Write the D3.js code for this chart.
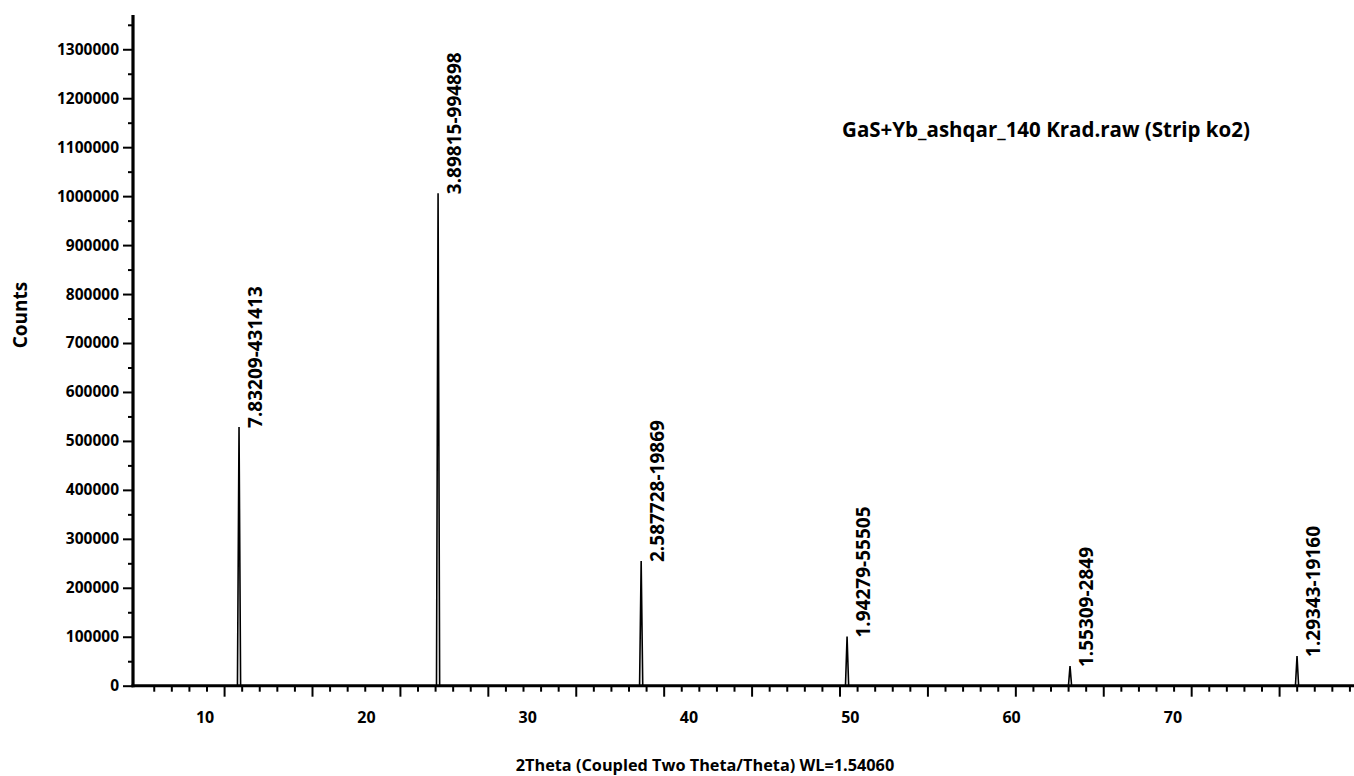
<!DOCTYPE html>
<html>
<head>
<meta charset="utf-8">
<script src="https://cdn.jsdelivr.net/npm/d3@7"></script>
<style>
  html, body { margin: 0; padding: 0; background: #fff; }
  svg { display: block; font-family: "Open Sans", sans-serif; font-weight: 700; }
</style>
</head>
<body>
<svg id="chart" width="1354" height="776"></svg>
<script>
// Strip pattern peaks: 2θ position (deg) and intensity (counts)
const peakTheta  = [10.85, 22.17, 33.72, 45.43, 58.11, 71.02];
const peakCounts = [528500, 1006000, 254700, 100500, 40000, 60700];
// Peak annotations: d-spacing (Å) and net value
const peakLabels = ["7.83209-431413", "3.89815-994898", "2.587728-19869",
                    "1.94279-55505", "1.55309-2849", "1.29343-19160"];

// Axis tick labels
const yTickLabels = [0, 100000, 200000, 300000, 400000, 500000, 600000, 700000,
                     800000, 900000, 1000000, 1100000, 1200000, 1300000];
const xTickLabels = [10, 20, 30, 40, 50, 60, 70];

const title  = "GaS+Yb_ashqar_140 Krad.raw (Strip ko2)";
const xTitle = "2Theta (Coupled Two Theta/Theta) WL=1.54060";
const yTitle = "Counts";

const svg = d3.select("#chart");

// Plot frame
const plotLeft = 133, plotRight = 1354, plotTop = 15, plotBottom = 685.7;
const peakHalfWidth = 0.09;   // half base width of each peak, deg

// Tick scale: minor every 1°, major every 5°
const x = d3.scaleLinear().domain([4.82, 74.26]).range([plotLeft, plotRight]);
const y = d3.scaleLinear().domain([0, 1370000]).range([plotBottom, plotTop]);
// Placement of the numeric 2θ labels under the axis
const xLab = d3.scaleLinear().domain([10, 70]).range([204.6, 1172.4]);

// Pattern line: flat baseline with triangular reflections
const pts = [[x.domain()[0], 0]];
peakTheta.forEach((t, i) => {
  pts.push([t - peakHalfWidth, 0], [t, peakCounts[i]], [t + peakHalfWidth, 0]);
});
pts.push([x.domain()[1], 0]);

svg.append("path")
  .datum(pts)
  .attr("fill", "none")
  .attr("stroke", "#000")
  .attr("stroke-width", 1.6)
  .attr("stroke-linejoin", "miter")
  .attr("d", d3.line().x(d => x(d[0])).y(d => y(d[1])));

// X axis: ticks only
const xMinor = d3.range(5, 75, 1).filter(v => v % 5 !== 0);
const xMajor = d3.range(10, 75, 5);
const gx = svg.append("g").attr("transform", `translate(0,${plotBottom})`);
gx.append("g")
  .call(d3.axisBottom(x).tickValues(xMinor).tickSize(6).tickFormat(""))
  .call(g => g.select(".domain").remove());
gx.append("g")
  .call(d3.axisBottom(x).tickValues(xMajor).tickSize(11).tickFormat(""))
  .call(g => g.select(".domain").remove());
gx.selectAll(".tick line").attr("stroke", "#000").attr("stroke-width", 2);
gx.append("line")
  .attr("x1", plotLeft - 1.5).attr("x2", plotRight)
  .attr("y1", 0).attr("y2", 0)
  .attr("stroke", "#000").attr("stroke-width", 3);

// X tick labels
const gxl = svg.append("g").attr("transform", `translate(0,${plotBottom})`)
  .call(d3.axisBottom(xLab).tickValues(xTickLabels).tickSize(0).tickPadding(0).tickFormat(d3.format("d")));
gxl.select(".domain").remove();
gxl.selectAll("text")
  .attr("dy", null).attr("y", 37)
  .attr("font-family", "Open Sans").attr("font-weight", 700)
  .attr("font-size", 16).attr("fill", "#000");

// Y axis
const yMinor = d3.range(50000, 1370000, 100000);
const gy = svg.append("g").attr("transform", `translate(${plotLeft},0)`);
gy.append("g")
  .call(d3.axisLeft(y).tickValues(yMinor).tickSize(5).tickFormat(""))
  .call(g => g.select(".domain").remove());
const gyMaj = gy.append("g")
  .call(d3.axisLeft(y).tickValues(yTickLabels).tickSize(10).tickPadding(4).tickFormat(d3.format("d")))
  .call(g => g.select(".domain").remove());
gy.selectAll(".tick line").attr("stroke", "#000").attr("stroke-width", 2);
gyMaj.selectAll("text")
  .attr("font-family", "Open Sans").attr("font-weight", 700)
  .attr("font-size", 15.5).attr("fill", "#000");
gy.append("line")
  .attr("x1", 0).attr("x2", 0)
  .attr("y1", plotTop).attr("y2", plotBottom + 1.5)
  .attr("stroke", "#000").attr("stroke-width", 3.2);

// Peak annotations, rotated beside each reflection
svg.append("g").selectAll("text")
  .data(peakLabels)
  .join("text")
  .attr("transform", (d, i) => `translate(${x(peakTheta[i]) + 23},${y(peakCounts[i]) + 1}) rotate(-90)`)
  .attr("font-size", 19)
  .attr("fill", "#000")
  .text(d => d);

// Titles
svg.append("text")
  .attr("x", 1046).attr("y", 137)
  .attr("text-anchor", "middle")
  .attr("font-size", 20.5)
  .text(title);

svg.append("text")
  .attr("x", 705).attr("y", 771)
  .attr("text-anchor", "middle")
  .attr("font-size", 16.3)
  .text(xTitle);

svg.append("text")
  .attr("transform", "translate(27,315) rotate(-90)")
  .attr("text-anchor", "middle")
  .attr("font-size", 19)
  .text(yTitle);
</script>
</body>
</html>
